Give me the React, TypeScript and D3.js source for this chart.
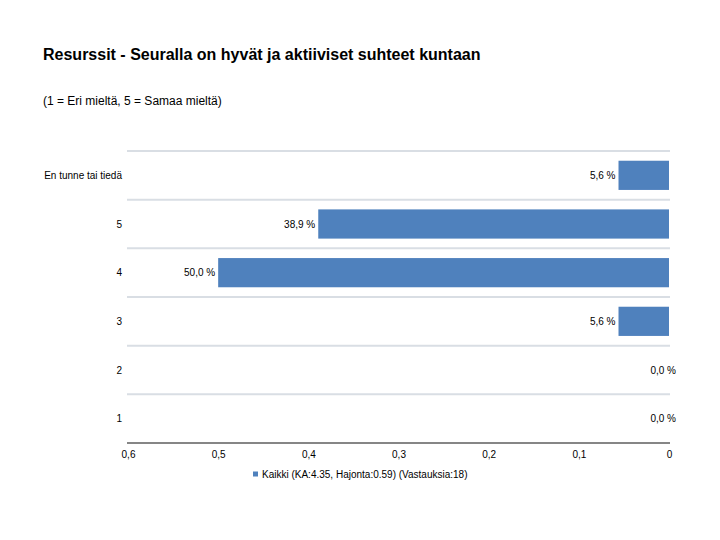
import * as React from 'react';
import { useEffect, useRef } from 'react';
import * as d3 from 'd3';

const title = 'Resurssit - Seuralla on hyvät ja aktiiviset suhteet kuntaan';
const subtitle = '(1 = Eri mieltä, 5 = Samaa mieltä)';
const legendLabel = 'Kaikki (KA:4.35, Hajonta:0.59) (Vastauksia:18)';

const categories = ['En tunne tai tiedä', '5', '4', '3', '2', '1'];
const shares = [0.056, 0.389, 0.5, 0.056, 0, 0];
const ticks = [0, 0.1, 0.2, 0.3, 0.4, 0.5, 0.6];

const font = '"Liberation Sans", Arial, sans-serif';
const barColor = '#4f81bd';

const comma = (s: string) => s.replace('.', ',');

const App: React.FC = () => {
    const svgRef = useRef<SVGSVGElement | null>(null);

    useEffect(() => {
        if (!svgRef.current) return;
        const svg = d3.select(svgRef.current);
        svg.selectAll('*').remove();

        // reversed axis: 0 on the right
        const x = d3.scaleLinear().domain([0, 0.6]).range([669, 128]);
        const y = d3.scaleBand<string>().domain(categories).range([151, 443])
            .paddingInner(0.4).paddingOuter(0.2);

        svg.append('text').attr('x', 43).attr('y', 60)
            .attr('font-size', 16).attr('font-weight', 'bold').attr('font-family', font)
            .text(title);
        svg.append('text').attr('x', 43).attr('y', 105)
            .attr('font-size', 12).attr('font-family', font)
            .text(subtitle);

        // gridlines between categories
        svg.append('g').selectAll('line').data(categories)
            .join('line')
            .attr('x1', 127).attr('x2', 670)
            .attr('y1', d => (y(d) as number) - y.step() * 0.2)
            .attr('y2', d => (y(d) as number) - y.step() * 0.2)
            .attr('stroke', '#d9dee4').attr('stroke-width', 2);

        svg.append('g').selectAll('rect').data(shares)
            .join('rect')
            .attr('x', d => x(d))
            .attr('width', d => x(0) - x(d))
            .attr('y', (_, i) => y(categories[i]) as number)
            .attr('height', y.bandwidth())
            .attr('fill', barColor);

        svg.append('g').selectAll('text').data(shares)
            .join('text')
            .attr('x', d => d > 0 ? x(d) - 3 : x(0) + 7)
            .attr('y', (_, i) => (y(categories[i]) as number) + y.bandwidth() / 2)
            .attr('dy', '0.35em')
            .attr('text-anchor', 'end')
            .attr('font-size', 10).attr('font-family', font)
            .text(d => comma(d3.format('.1f')(d * 100)) + ' %');

        svg.append('g').selectAll('text').data(categories)
            .join('text')
            .attr('x', 122)
            .attr('y', d => (y(d) as number) + y.bandwidth() / 2)
            .attr('dy', '0.35em')
            .attr('text-anchor', 'end')
            .attr('font-size', 10).attr('font-family', font)
            .text(d => d);

        // x axis
        const axis = svg.append('g').attr('transform', 'translate(0,443)')
            .call(d3.axisBottom(x).tickValues(ticks).tickSize(0).tickPadding(8)
                .tickFormat(d => comma(String(+d))));
        axis.select('.domain').attr('stroke', '#868686').attr('stroke-width', 2)
            .attr('d', 'M127,0H670');
        axis.selectAll('text').attr('font-size', 10).attr('font-family', font).attr('fill', '#000');

        // legend
        svg.append('rect').attr('x', 253).attr('y', 471.5).attr('width', 5).attr('height', 5)
            .attr('fill', barColor);
        svg.append('text').attr('x', 262).attr('y', 474).attr('dy', '0.35em')
            .attr('font-size', 10).attr('font-family', font)
            .text(legendLabel);
    }, []);

    return (
        <svg ref={svgRef} width={720} height={540}
            style={{ position: 'absolute', left: 0, top: 0, background: '#fff' }} />
    );
}

export default App;
